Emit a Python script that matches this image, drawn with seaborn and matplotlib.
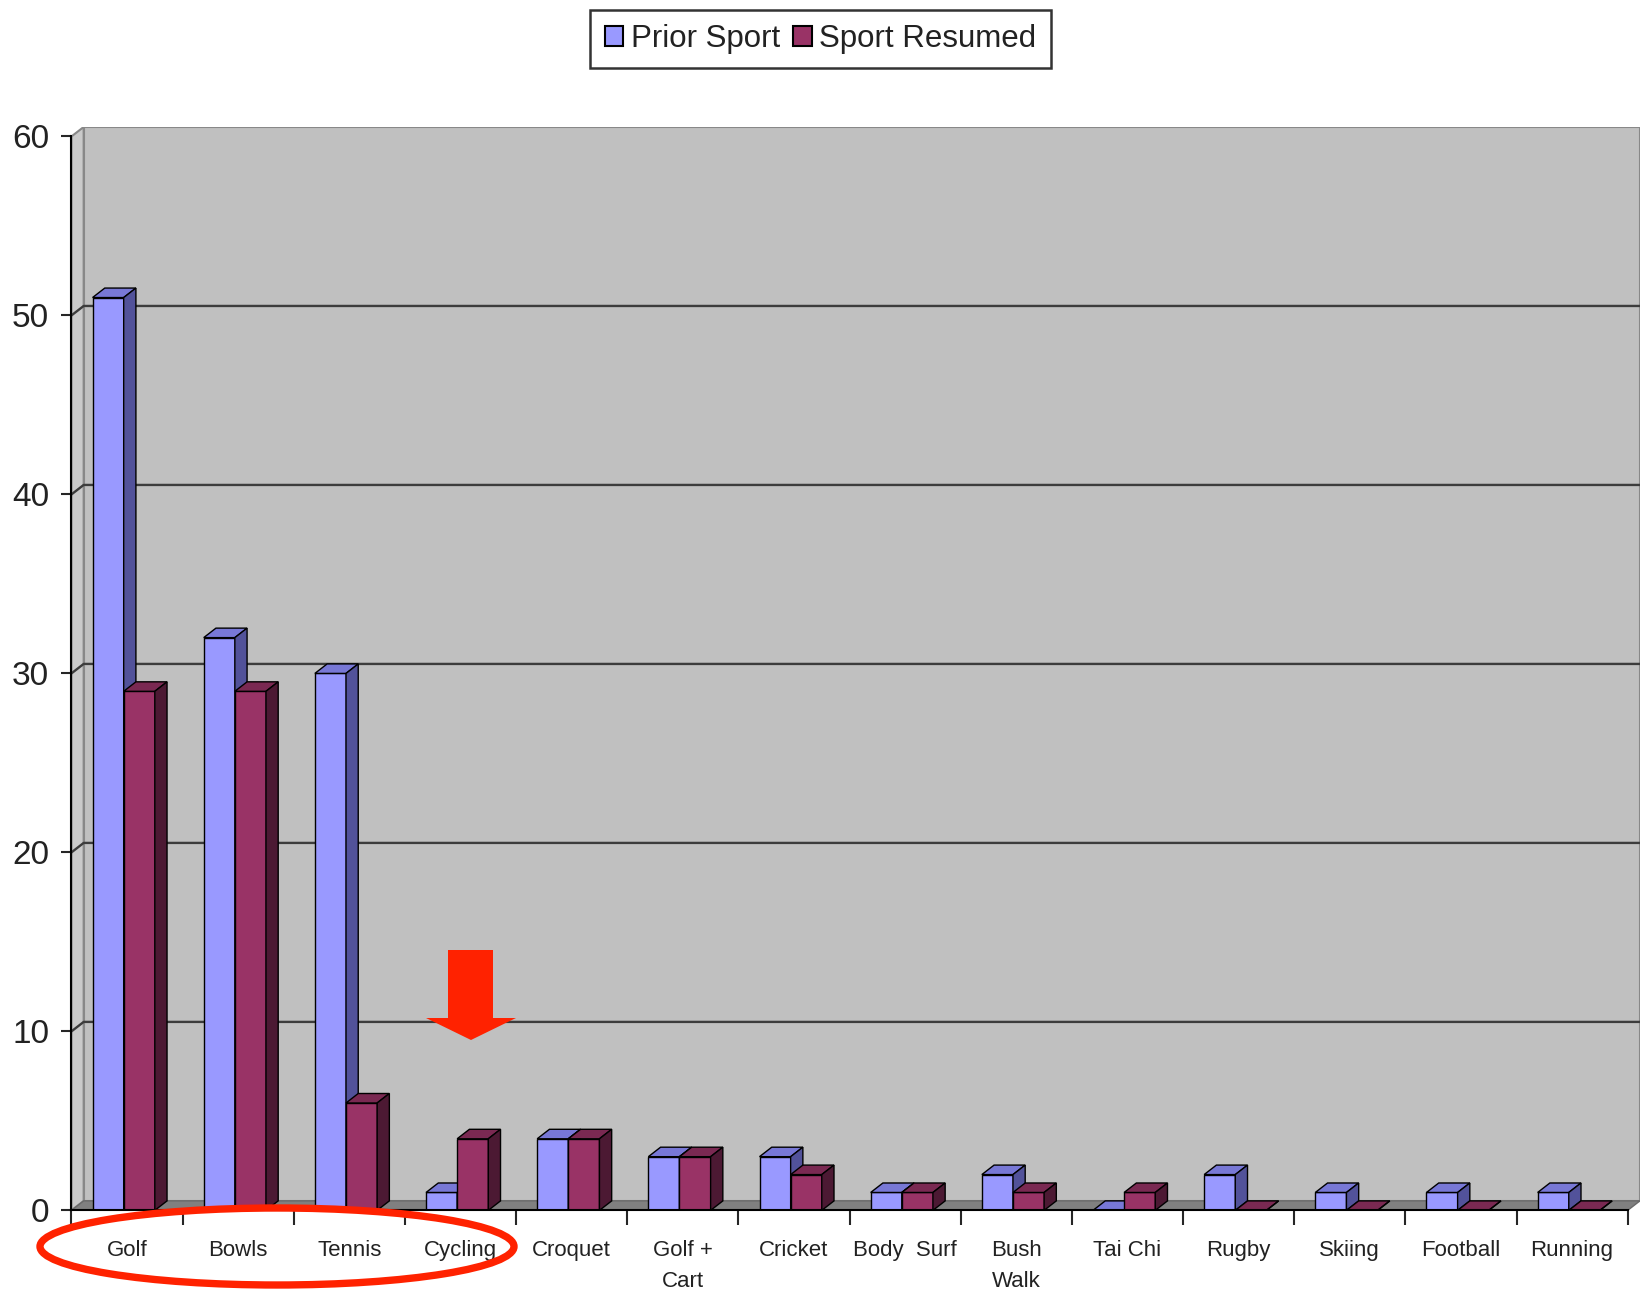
import matplotlib
matplotlib.use("Agg")
import matplotlib.pyplot as plt
from matplotlib.patches import Polygon, Patch, Ellipse
import seaborn as sns
import pandas as pd

# data
sports = ["Golf", "Bowls", "Tennis", "Cycling", "Croquet", "Golf +\nCart", "Cricket",
          "Body  Surf", "Bush\nWalk", "Tai Chi", "Rugby", "Skiing", "Football", "Running"]
prior_sport = [51, 32, 30, 1, 4, 3, 3, 1, 2, 0, 2, 1, 1, 1]
sport_resumed = [29, 29, 6, 4, 4, 3, 2, 1, 1, 1, 0, 0, 0, 0]
series = ["Prior Sport", "Sport Resumed"]
y_ticks = [0, 10, 20, 30, 40, 50, 60]

colors = {"Prior Sport": "#9999FF", "Sport Resumed": "#993366"}
top_colors = {"Prior Sport": "#7878D6", "Sport Resumed": "#7A2952"}
side_colors = {"Prior Sport": "#52529A", "Sport Resumed": "#4C1933"}

sns.set_style("white")
plt.rcParams["font.family"] = ["Liberation Sans", "DejaVu Sans"]

df = pd.DataFrame({
    "sport": sports * 2,
    "count": prior_sport + sport_resumed,
    "series": [series[0]] * len(sports) + [series[1]] * len(sports),
})

W, H = 1646, 1293
fig = plt.figure(figsize=(W / 100, H / 100), dpi=100)
ax = fig.add_axes([0.0434, 0.0639, 0.9529, 0.8379])

dx, dy = 0.11, 0.53           # 3d depth offset in data units
shift = -0.03                 # front faces sit a little left to leave room for depth
x0, x1 = -0.5, len(sports) - 0.5
ytop = y_ticks[-1]

sns.barplot(data=df, x="sport", y="count", hue="series", palette=colors,
            width=0.56, saturation=1, edgecolor="black", linewidth=1,
            legend=False, ax=ax)
bars = list(ax.patches)
n = len(sports)

ax.set_xlim(x0, x1 + dx)
ax.set_ylim(0, ytop + dy)
ax.set_facecolor("white")

# walls and floor
ax.add_patch(Polygon([(x0 + dx, dy), (x1 + dx, dy), (x1 + dx, ytop + dy), (x0 + dx, ytop + dy)],
                     closed=True, facecolor="#C0C0C0", edgecolor="#888888", lw=1.5, zorder=0.5))
ax.add_patch(Polygon([(x0, 0), (x0 + dx, dy), (x0 + dx, ytop + dy), (x0, ytop)],
                     closed=True, facecolor="#CACACA", edgecolor="#888888", lw=1.5, zorder=0.6))
ax.add_patch(Polygon([(x0, 0), (x0 + dx, dy), (x1 + dx, dy), (x1, 0)],
                     closed=True, facecolor="#808080", edgecolor="#6a6a6a", lw=1, zorder=0.7))
for v in y_ticks[1:-1]:
    ax.plot([x0, x0 + dx, x1 + dx], [v, v + dy, v + dy], color="#3c3c3c", lw=1.7, zorder=0.8)

# 3d faces for each bar
for i, p in enumerate(bars):
    s = series[i // n]
    z = 3 if i < n else 4
    p.set_x(p.get_x() + shift)
    x, w, h = p.get_x(), p.get_width(), p.get_height()
    p.set_zorder(z)
    ax.add_patch(Polygon([(x, h), (x + dx, h + dy), (x + w + dx, h + dy), (x + w, h)],
                         closed=True, facecolor=top_colors[s], edgecolor="black", lw=1, zorder=z))
    ax.add_patch(Polygon([(x + w, 0), (x + w + dx, dy), (x + w + dx, h + dy), (x + w, h)],
                         closed=True, facecolor=side_colors[s], edgecolor="black", lw=1, zorder=z))

# axes styling
for side in ["top", "right"]:
    ax.spines[side].set_visible(False)
ax.spines["left"].set_bounds(0, ytop)
ax.spines["bottom"].set_bounds(x0, x1)
for side in ["left", "bottom"]:
    ax.spines[side].set_color("black")
    ax.spines[side].set_linewidth(1.5)
    ax.spines[side].set_zorder(5)

ax.set_yticks(y_ticks)
ax.set_xticks(range(n))
ax.set_xticks([x0 + k for k in range(n + 1)], minor=True)
ax.tick_params(axis="y", direction="out", length=7, width=1.5, pad=9, labelsize=24, left=True)
ax.tick_params(axis="x", which="major", length=0, pad=21, labelsize=16, bottom=True)
ax.tick_params(axis="x", which="minor", direction="out", length=11, width=1.5, bottom=True)
for lab in ax.get_xticklabels():
    lab.set_linespacing(1.65)
for lab in ax.get_xticklabels() + ax.get_yticklabels():
    lab.set_color("#222222")
ax.set_xlabel("")
ax.set_ylabel("")

# legend
handles = [Patch(facecolor=colors[s], edgecolor="black", lw=1.5) for s in series]
leg = fig.legend(handles, series, loc="upper center", bbox_to_anchor=(0.4985, 0.992), ncol=2,
                 frameon=True, fancybox=False, edgecolor="black", fontsize=22.5,
                 handlelength=0.6, handleheight=0.6, handletextpad=0.25, columnspacing=0.4,
                 borderpad=0.45, borderaxespad=0)
leg.get_frame().set_linewidth(1.8)
for t in leg.get_texts():
    t.set_color("#222222")


def fpx(x, y):
    return (x / W, 1 - y / H)


# red annotations
fig.patches.append(Ellipse(fpx(277, 1246.5), 474 / W, 77 / H, transform=fig.transFigure,
                           fill=False, edgecolor="#FF2200", lw=5.3, zorder=10))
arrow = [fpx(448, 950), fpx(493, 950), fpx(493, 1018), fpx(516, 1018), fpx(471, 1040),
         fpx(426, 1018), fpx(448, 1018)]
fig.patches.append(Polygon(arrow, closed=True, transform=fig.transFigure,
                           facecolor="#FF2200", edgecolor="none", zorder=10))

fig.savefig("out.png", dpi=100)
